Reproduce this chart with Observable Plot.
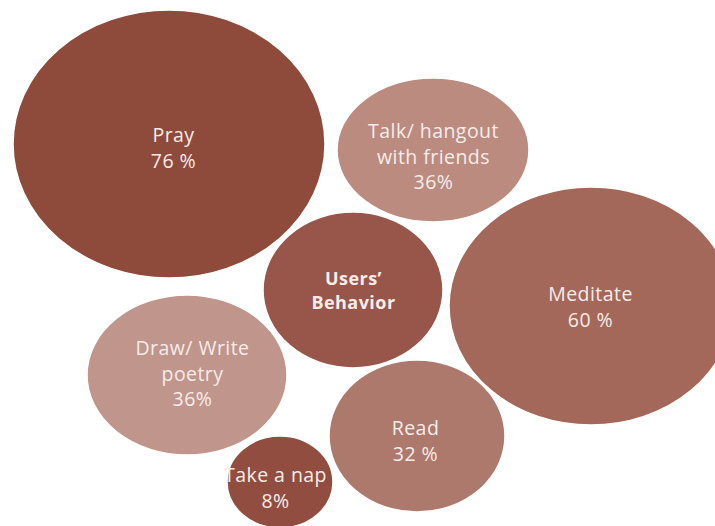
<!DOCTYPE html>
<html>
<head>
<meta charset="utf-8">
<script src="https://cdn.jsdelivr.net/npm/d3@7"></script>
<script src="https://cdn.jsdelivr.net/npm/@observablehq/plot@0.6"></script>
<style>
  html, body { margin: 0; padding: 0; background: #ffffff; }
  #chart svg { display: block; }
</style>
</head>
<body>
<div id="chart"></div>
<script>
// ---- data ----
const categories = ["Pray", "Talk/ hangout\nwith friends", "Users’\nBehavior", "Meditate", "Draw/ Write\npoetry", "Read", "Take a nap"];
const values = [76, 36, null, 60, 36, 32, 8];
const valueLabels = ["76 %", "36%", "", "60 %", "36%", "32 %", "8%"];

// ---- layout (bubble placement, in chart units) ----
const centerX = [169, 433, 353, 591, 187, 417, 280];
const centerY = [144, 150, 290, 306, 375, 436, 482];
const radiusX = [156, 96, 90, 142, 100, 88, 53];
const radiusY = [134, 72, 78, 119, 80, 76, 46];
const labelDX = [4, 0, 0, -1, 5, -2, -5];
const labelDY = [2, 5, -1, -1, -3, 3, 4];
const colors = ["#8E4A3B", "#BB8B80", "#98564A", "#A4685A", "#C0958C", "#AE796D", "#914E40"];

const W = 715, H = 526;

const rows = categories.map((c, i) => ({
  category: c,
  value: values[i],
  label: valueLabels[i] ? c + "\n" + valueLabels[i] : c,
  cx: centerX[i], cy: centerY[i], rx: radiusX[i], ry: radiusY[i],
  lx: centerX[i] + labelDX[i], ly: centerY[i] + labelDY[i],
  color: colors[i],
  center: values[i] == null
}));

function ellipseRender(index, scales, values, dimensions, context) {
  const g = d3.create("svg:g");
  for (const i of index) {
    const d = rows[i];
    const px = scales.x(d.cx), py = scales.y(d.cy);
    const prx = Math.abs(scales.x(d.cx + d.rx) - px);
    const pry = Math.abs(scales.y(d.cy + d.ry) - py);
    g.append("ellipse")
      .attr("cx", px).attr("cy", py)
      .attr("rx", prx).attr("ry", pry)
      .attr("fill", d.color)
      .attr("stroke", "#ffffff")
      .attr("stroke-width", 1.5);
  }
  return g.node();
}

const chart = Plot.plot({
  width: W,
  height: H,
  margin: 0,
  x: {domain: [0, W], range: [0, W], axis: null},
  y: {domain: [0, H], range: [0, H], axis: null},
  style: {background: "#ffffff", fontFamily: "'Open Sans', sans-serif"},
  marks: [
    Plot.dot(rows, {x: "cx", y: "cy", r: 1, render: ellipseRender}),
    Plot.text(rows.filter(d => !d.center), {
      x: "lx", y: "ly", text: "label",
      fill: "#F7ECE9", fontSize: 19.5, lineHeight: 1.32,
      fontFamily: "'Open Sans', sans-serif"
    }),
    Plot.text(rows.filter(d => d.center), {
      x: "lx", y: "ly", text: "label",
      fill: "#F7ECE9", fontSize: 18, lineHeight: 1.33, fontWeight: "bold",
      fontFamily: "'Open Sans', sans-serif"
    })
  ]
});
chart.querySelectorAll("text").forEach(t => t.style.letterSpacing = "0.45px");
document.getElementById("chart").appendChild(chart);
</script>
</body>
</html>
